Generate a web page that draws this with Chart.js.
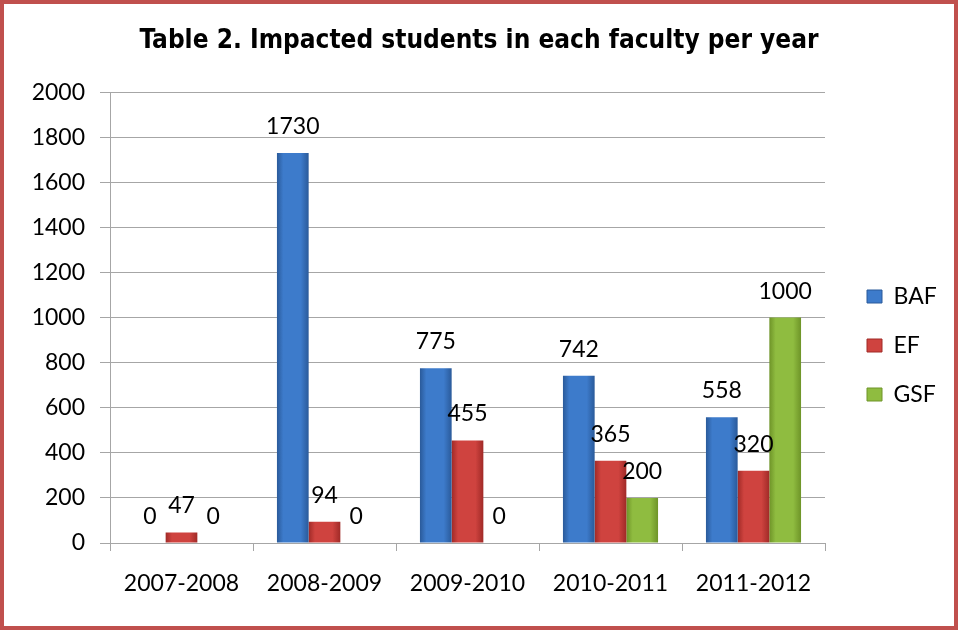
<!DOCTYPE html>
<html>
<head>
<meta charset="utf-8">
<script src="https://cdn.jsdelivr.net/npm/chart.js@4/dist/chart.umd.min.js"></script>
<style>
  html, body { margin: 0; padding: 0; background: #fff; }
  #wrap { width: 958px; height: 630px; box-sizing: border-box; border: 4px solid #C0504D; background: #fff; }
  canvas { display: block; }
</style>
</head>
<body>
<div id="wrap"><canvas id="myChart" width="950" height="622"></canvas></div>
<script>
// data
const years = ['2007-2008', '2008-2009', '2009-2010', '2010-2011', '2011-2012'];
const baf = [0, 1730, 775, 742, 558];
const ef = [47, 94, 455, 365, 320];
const gsf = [0, 0, 0, 200, 1000];

const yTicks = [0, 200, 400, 600, 800, 1000, 1200, 1400, 1600, 1800, 2000];

const gridGrey = '#A6A6A6';
const FONT = 'Lato, "Open Sans", sans-serif';

// dark edge / main colour for the bevelled bar look
const shades = [
  ['#2A5A9A', '#3D7BCB'],
  ['#A02A27', '#CF433F'],
  ['#6E9428', '#8FBC40']
];

function barGradient(ctx, x0, x1, pair) {
  const g = ctx.createLinearGradient(x0, 0, x1, 0);
  g.addColorStop(0, pair[0]);
  g.addColorStop(0.2, pair[1]);
  g.addColorStop(0.75, pair[1]);
  g.addColorStop(1, pair[0]);
  return g;
}

const shadeBars = {
  id: 'shadeBars',
  beforeDatasetsDraw(chart) {
    const ctx = chart.ctx;
    chart.data.datasets.forEach((ds, i) => {
      chart.getDatasetMeta(i).data.forEach(bar => {
        bar.options.backgroundColor = barGradient(ctx, bar.x - bar.width / 2, bar.x + bar.width / 2, shades[i]);
      });
    });
  }
};

const valueLabels = {
  id: 'valueLabels',
  afterDatasetsDraw(chart) {
    const ctx = chart.ctx;
    ctx.save();
    ctx.font = '23px ' + FONT;
    ctx.fillStyle = '#000';
    ctx.textAlign = 'center';
    ctx.textBaseline = 'alphabetic';
    chart.data.datasets.forEach((ds, i) => {
      chart.getDatasetMeta(i).data.forEach((bar, j) => {
        ctx.fillText(String(ds.data[j]), bar.x, bar.y - 19);
      });
    });
    ctx.restore();
  }
};

// put the legend where the original has it
const placeLegend = {
  id: 'placeLegend',
  afterLayout(chart) {
    const lg = chart.legend;
    if (!lg) return;
    const w = lg.width, h = lg.height;
    lg.left = 837; lg.right = 837 + w;
    lg.top = 255; lg.bottom = 255 + h;
  }
};

const data = {
  labels: years,
  datasets: [
    {label: 'BAF', data: baf, backgroundColor: (c) => shades[0][1], borderWidth: 0},
    {label: 'EF', data: ef, backgroundColor: (c) => shades[1][1], borderWidth: 0},
    {label: 'GSF', data: gsf, backgroundColor: (c) => shades[2][1], borderWidth: 0}
  ]
};

const config = {
  type: 'bar',
  data: data,
  options: {
    responsive: false,
    animation: false,
    layout: {padding: 0},
    datasets: {bar: {categoryPercentage: 0.665, barPercentage: 1.0}},
    scales: {
      x: {
        grid: {display: true, offset: true, drawOnChartArea: false, color: gridGrey, tickLength: 8},
        border: {display: true, color: gridGrey, width: 1},
        ticks: {font: {family: FONT, size: 23}, color: '#000', padding: 19, maxRotation: 0},
        afterFit(scale) { scale.height = 83; }
      },
      y: {
        min: 0,
        max: 2000,
        afterBuildTicks(scale) { scale.ticks = yTicks.map(v => ({value: v})); },
        grid: {color: gridGrey, tickLength: 10},
        border: {display: true, color: gridGrey, width: 1},
        ticks: {font: {family: FONT, size: 23}, color: '#000', padding: 15, callback: (v) => String(v)},
        afterFit(scale) { scale.width = 106; }
      },
      // empty right axis that only reserves room for the legend
      side: {
        position: 'right',
        min: 0,
        max: 2000,
        grid: {display: false},
        border: {display: false},
        ticks: {display: false},
        afterFit(scale) { scale.width = 129; }
      }
    },
    plugins: {
      title: {
        display: true,
        text: 'Table 2. Impacted students in each faculty per year',
        font: {family: '"DejaVu Sans Condensed", sans-serif', size: 26, weight: 'bold'},
        color: '#000',
        padding: {top: 22, bottom: 35}
      },
      legend: {
        position: 'chartArea',
        align: 'start',
        labels: {
          font: {family: FONT, size: 23},
          color: '#000',
          boxWidth: 15,
          boxHeight: 13,
          padding: 26,
          generateLabels(chart) {
            return chart.data.datasets.map((ds, i) => ({
              text: ds.label,
              fillStyle: shades[i][1],
              strokeStyle: shades[i][0],
              lineWidth: 1,
              datasetIndex: i
            }));
          }
        }
      },
      tooltip: {enabled: false}
    }
  },
  plugins: [shadeBars, valueLabels, placeLegend]
};

const myChart = new Chart(document.getElementById('myChart'), config);
</script>
</body>
</html>
